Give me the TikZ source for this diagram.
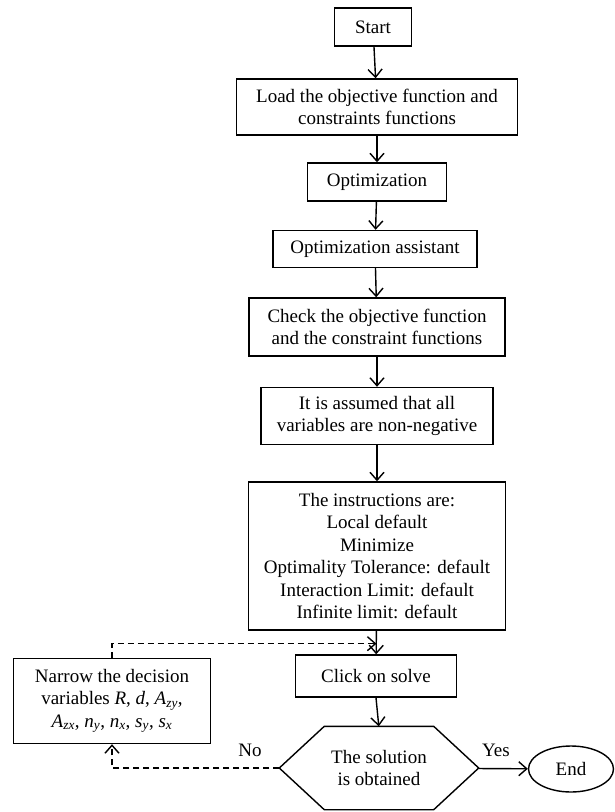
\documentclass[tikz,border=0pt]{standalone}
\usepackage{fontspec}
\setmainfont{Liberation Serif}
\usetikzlibrary{arrows.meta,calc,positioning,shapes.geometric}
\newcommand{\flowfont}{\fontsize{19}{22.5}\selectfont}
\tikzset{
  stepbox/.style  = {draw, line width=1.4pt, align=center, inner sep=0pt, font=\flowfont},
  endbox/.style   = {stepbox, ellipse},
  flow/.style     = {-{Straight Barb[length=8pt,width=14pt]}, line width=1.4pt},
  loopback/.style = {flow, dash pattern=on 6pt off 4pt},
  answer/.style   = {font=\flowfont},
}
\begin{document}
\begin{tikzpicture}[x=1pt,y=-1pt]
  \useasboundingbox (0,0) rectangle (614,812);
  % main column
  \node[stepbox, minimum width=77, minimum height=38] (start) at (373,27) {Start};
  \node[stepbox, minimum width=281, minimum height=56] (load) at (377,107)
    {Load the objective function and\\constraints functions};
  \node[stepbox, minimum width=139, minimum height=38] (opt) at (377,182) {Optimization};
  \node[stepbox, minimum width=204, minimum height=37] (assist) at (375,249) {Optimization assistant};
  \node[stepbox, minimum width=256, minimum height=58] (check) at (377,327)
    {Check the objective function\\and the constraint functions};
  \node[stepbox, minimum width=232, minimum height=57] (assume) at (377,416)
    {It is assumed that all\\variables are non-negative};
  \node[stepbox, minimum width=257, minimum height=148] (instr) at (377,556)
    {The instructions are:\\Local default\\Minimize\\Optimality Tolerance: default\\
     Interaction Limit: default\\Infinite limit: default};
  \node[stepbox, minimum width=161, minimum height=42] (solve) at (376,676) {Click on solve};
  % decision
  \node[answer, align=center, minimum width=199, minimum height=83] (solved) at (379,768)
    {The solution\\is obtained};
  \draw[line width=1.4pt] (solved.west) -- ($(solved.north west)+(45,0)$)
    -- ($(solved.north east)+(-45,0)$) -- (solved.east)
    -- ($(solved.south east)+(-45,0)$) -- ($(solved.south west)+(45,0)$) -- cycle;
  \node[endbox, minimum width=85, minimum height=46] (end) at (571,769) {End};
  \node[stepbox, minimum width=197, minimum height=85] (narrow) at (112,701)
    {Narrow the decision\\variables \textit{R}, \textit{d}, \textit{A}\textsubscript{\textit{zy}},\\
     \textit{A}\textsubscript{\textit{zx}}, \textit{n}\textsubscript{\textit{y}},
     \textit{n}\textsubscript{\textit{x}}, \textit{s}\textsubscript{\textit{y}},
     \textit{s}\textsubscript{\textit{x}}};
  \coordinate (rejoin) at ($(instr.south)!0.55!(solve.north)$);
  % arrows
  \draw[flow] (start) -- (load);
  \draw[flow] (load) -- (opt);
  \draw[flow] (opt) -- (assist);
  \draw[flow] (assist) -- (check);
  \draw[flow] (check) -- (assume);
  \draw[flow] (assume) -- (instr);
  \draw[flow] (instr) -- (solve);
  \draw[flow] (solve.south) -- ($(solved.north west)+(99.5,0)$);
  \draw[flow] (solved) -- (end);
  \draw[loopback] (solved.west) -| (narrow.south);
  \draw[loopback] (narrow.north) |- (rejoin);
  \node[answer] (no) at (250,750) {No};
  \node[answer] (yes) at (496,750) {Yes};
\end{tikzpicture}
\end{document}
